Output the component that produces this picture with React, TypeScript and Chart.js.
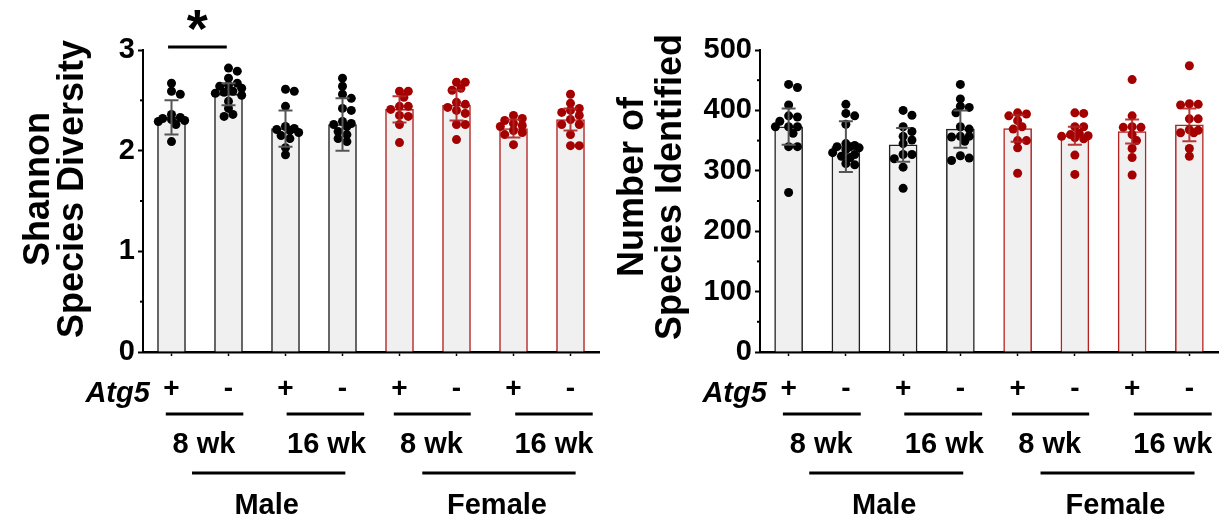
import React, { useEffect, useRef } from 'react';
import { Chart, registerables } from 'chart.js';

Chart.register(...registerables);

const FONT = 'Arial, "Liberation Sans", Helvetica, sans-serif';

// ---------- categories / labels ----------
const atg5Signs = ['+', '-', '+', '-', '+', '-', '+', '-'];
const ageLabels = ['8 wk', '16 wk', '8 wk', '16 wk'];
const sexLabels = ['Male', 'Female'];
const geneLabel = 'Atg5';

// ---------- Shannon species diversity ----------
const shannonTicks = [0, 1, 2, 3];
const shannonMinorTicks = [0.5, 1.5, 2.5];
const shannonMean = [2.33, 2.56, 2.22, 2.26, 2.41, 2.45, 2.22, 2.31];
const shannonSD = [0.17, 0.11, 0.18, 0.26, 0.13, 0.15, 0.09, 0.11];
const shannonM8Pos = [2.67, 2.59, 2.56, 2.36, 2.33, 2.32, 2.31, 2.3, 2.29, 2.26, 2.09];
const shannonM8Neg = [2.82, 2.79, 2.72, 2.67, 2.65, 2.64, 2.62, 2.59, 2.58, 2.57, 2.55, 2.49, 2.42, 2.36, 2.34];
const shannonM16Pos = [2.61, 2.59, 2.44, 2.24, 2.22, 2.21, 2.2, 2.18, 2.15, 2.12, 2.03, 1.96];
const shannonM16Neg = [2.72, 2.64, 2.56, 2.52, 2.42, 2.4, 2.29, 2.27, 2.26, 2.24, 2.19, 2.16, 2.12, 2.09];
const shannonF8Pos = [2.59, 2.59, 2.53, 2.44, 2.44, 2.41, 2.35, 2.34, 2.26, 2.08];
const shannonF8Neg = [2.68, 2.68, 2.62, 2.6, 2.48, 2.46, 2.43, 2.4, 2.37, 2.26, 2.26, 2.11];
const shannonF16Pos = [2.35, 2.32, 2.3, 2.27, 2.25, 2.24, 2.2, 2.18, 2.16, 2.06];
const shannonF16Neg = [2.56, 2.47, 2.42, 2.4, 2.38, 2.35, 2.31, 2.26, 2.26, 2.16, 2.05, 2.05];

// ---------- Number of species identified ----------
const speciesTicks = [0, 100, 200, 300, 400, 500];
const speciesMinorTicks = [50, 150, 250, 350, 450];
const speciesMean = [373, 340, 343, 369, 370, 358, 365, 376];
const speciesSD = [30, 42, 28, 31, 22, 15, 20, 27];
const speciesM8Pos = [443, 438, 409, 391, 389, 382, 373, 373, 373, 362, 340, 340, 264];
const speciesM8Neg = [410, 395, 391, 377, 345, 342, 340, 340, 338, 335, 330, 327, 324, 322, 312, 310];
const speciesM16Pos = [400, 392, 373, 365, 357, 351, 345, 327, 327, 320, 306, 271];
const speciesM16Neg = [443, 419, 407, 405, 396, 373, 369, 357, 357, 356, 349, 325, 321, 317];
const speciesF8Pos = [396, 394, 391, 383, 373, 369, 350, 350, 338, 296];
const speciesF8Neg = [396, 395, 373, 373, 362, 360, 358, 357, 355, 353, 326, 294];
const speciesF16Pos = [451, 391, 373, 372, 372, 360, 350, 337, 322, 293];
const speciesF16Neg = [474, 411, 410, 409, 386, 386, 368, 367, 363, 363, 337, 324];

// ---------- styles ----------
const BAR_FILL = '#f0f0f0';
const MALE_COLOR = '#000000';
const FEMALE_COLOR = '#a50000';
const MALE_BORDER = '#222222';
const FEMALE_BORDER = '#b52222';
const MALE_ERR = '#555555';
const FEMALE_ERR = 'rgba(175,35,35,0.9)';

// annotation layout (in category-index units / px below the x axis)
const DECOR = {
  geneIdx: -0.38,
  geneBase: 49.5,
  pairLines: [[-0.1, 1.26], [2.02, 3.38], [3.9, 5.25], [6.03, 7.39]],
  pairDy: 62,
  ageIdx: [0.57, 2.72, 4.56, 6.71],
  ageBase: 101,
  sexLines: [[0.36, 3.05], [4.4, 7.09]],
  sexDy: 121,
  sexIdx: [1.67, 5.71],
  sexBase: 161.5,
};

// simple deterministic beeswarm placement (horizontal spread only)
function swarm(groups: number[][], pxPerUnit: number, pxPerIdx: number) {
  const minDist = 7;
  const step = 4.4;
  const male: { x: number; y: number }[] = [];
  const female: { x: number; y: number }[] = [];
  groups.forEach((vals, gi) => {
    const placed: { dx: number; py: number }[] = [];
    const order = vals.map((_, i) => i).sort((a, b) => vals[b] - vals[a]);
    order.forEach((i) => {
      const py = vals[i] * pxPerUnit;
      let chosen = 0;
      let best = -1;
      for (let k = 0; k < 7; k++) {
        const m = k === 0 ? 0 : k % 2 === 1 ? (k + 1) / 2 : -k / 2;
        const dx = m * step;
        const d = placed.length
          ? Math.min(...placed.map((p) => Math.hypot(p.dx - dx, p.py - py)))
          : Infinity;
        if (d >= minDist) {
          chosen = dx;
          break;
        }
        if (d > best) {
          best = d;
          chosen = dx;
        }
      }
      placed.push({ dx: chosen, py });
      (gi < 4 ? male : female).push({ x: gi + chosen / pxPerIdx, y: vals[i] });
    });
  });
  return { male, female };
}

type Spec = {
  mean: number[];
  sd: number[];
  groups: number[][];
  max: number;
  ticks: number[];
  minor: number[];
  yWidth: number;
  padRight: number;
  titleLines: string[];
  titleBaseX: number[];
  titleCenterY: number;
  titleSize: number;
  sig: boolean;
};

function makeConfig(spec: Spec): any {
  const pxPerUnit = 302 / spec.max;
  const dots = swarm(spec.groups, pxPerUnit, 57.1);

  const decor = {
    id: 'decor',
    afterDatasetsDraw(chart: any) {
      const { ctx } = chart;
      const x = chart.scales.x;
      const y = chart.scales.y;
      ctx.save();
      ctx.lineWidth = 2;
      spec.mean.forEach((m, i) => {
        const px = x.getPixelForValue(i);
        const top = y.getPixelForValue(m + spec.sd[i]);
        const bot = y.getPixelForValue(m - spec.sd[i]);
        ctx.strokeStyle = i < 4 ? MALE_ERR : FEMALE_ERR;
        ctx.beginPath();
        ctx.moveTo(px, top);
        ctx.lineTo(px, bot);
        ctx.moveTo(px - 7, top);
        ctx.lineTo(px + 7, top);
        ctx.moveTo(px - 7, bot);
        ctx.lineTo(px + 7, bot);
        ctx.stroke();
      });
      ctx.restore();
    },
    afterDraw(chart: any) {
      const { ctx, chartArea } = chart;
      const x = chart.scales.x;
      const y = chart.scales.y;
      const bottom = chartArea.bottom;
      ctx.save();
      ctx.fillStyle = '#000';
      ctx.strokeStyle = '#000';

      // minor ticks
      ctx.lineWidth = 2;
      spec.minor.forEach((v) => {
        const py = y.getPixelForValue(v);
        ctx.beginPath();
        ctx.moveTo(chartArea.left - 3, py);
        ctx.lineTo(chartArea.left, py);
        ctx.stroke();
      });

      // y title
      ctx.font = `bold ${spec.titleSize}px ${FONT}`;
      ctx.textAlign = 'center';
      ctx.textBaseline = 'alphabetic';
      spec.titleLines.forEach((t, k) => {
        ctx.save();
        ctx.translate(spec.titleBaseX[k], spec.titleCenterY);
        ctx.rotate(-Math.PI / 2);
        ctx.fillText(t, 0, 0);
        ctx.restore();
      });

      // gene label
      ctx.font = `italic bold 29px ${FONT}`;
      ctx.textAlign = 'right';
      ctx.fillText(geneLabel, x.getPixelForValue(DECOR.geneIdx), bottom + DECOR.geneBase);

      // pair lines + age labels
      ctx.lineWidth = 3;
      DECOR.pairLines.forEach(([a, b]) => {
        ctx.beginPath();
        ctx.moveTo(x.getPixelForValue(a), bottom + DECOR.pairDy);
        ctx.lineTo(x.getPixelForValue(b), bottom + DECOR.pairDy);
        ctx.stroke();
      });
      ctx.font = `bold 29px ${FONT}`;
      ctx.textAlign = 'center';
      ageLabels.forEach((t, k) => {
        ctx.fillText(t, x.getPixelForValue(DECOR.ageIdx[k]), bottom + DECOR.ageBase);
      });

      // sex lines + labels
      DECOR.sexLines.forEach(([a, b]) => {
        ctx.beginPath();
        ctx.moveTo(x.getPixelForValue(a), bottom + DECOR.sexDy);
        ctx.lineTo(x.getPixelForValue(b), bottom + DECOR.sexDy);
        ctx.stroke();
      });
      sexLabels.forEach((t, k) => {
        ctx.fillText(t, x.getPixelForValue(DECOR.sexIdx[k]), bottom + DECOR.sexBase);
      });

      // significance
      if (spec.sig) {
        const ly = y.getPixelForValue(3.03);
        ctx.lineWidth = 3;
        ctx.beginPath();
        ctx.moveTo(x.getPixelForValue(-0.06), ly);
        ctx.lineTo(x.getPixelForValue(0.97), ly);
        ctx.stroke();
        ctx.font = `bold 54px ${FONT}`;
        ctx.textAlign = 'center';
        ctx.fillText('*', x.getPixelForValue(0.45), 47);
      }
      ctx.restore();
    },
  };

  const tickFont = { family: FONT, size: 29, weight: 'bold' as const };

  return {
    type: 'bar',
    data: {
      datasets: [
        {
          type: 'scatter',
          data: dots.male,
          pointRadius: 4.5,
          pointBorderWidth: 0,
          pointBackgroundColor: MALE_COLOR,
          backgroundColor: MALE_COLOR,
          borderWidth: 0,
          order: 1,
        },
        {
          type: 'scatter',
          data: dots.female,
          pointRadius: 4.5,
          pointBorderWidth: 0,
          pointBackgroundColor: FEMALE_COLOR,
          backgroundColor: FEMALE_COLOR,
          borderWidth: 0,
          order: 1,
        },
        {
          type: 'bar',
          data: spec.mean.map((m, i) => ({ x: i, y: m })),
          backgroundColor: BAR_FILL,
          borderColor: spec.mean.map((_, i) => (i < 4 ? MALE_BORDER : FEMALE_BORDER)),
          borderWidth: 1.5,
          barThickness: 28,
          order: 3,
        },
      ],
    },
    options: {
      responsive: false,
      animation: false,
      events: [],
      layout: { padding: { top: 50, right: spec.padRight, left: 0, bottom: 0 } },
      plugins: { legend: { display: false }, tooltip: { enabled: false } },
      scales: {
        x: {
          type: 'linear',
          min: -0.5,
          max: 7.5,
          offset: false,
          z: 1,
          afterBuildTicks: (s: any) => {
            s.ticks = atg5Signs.map((_, i) => ({ value: i }));
          },
          afterFit: (s: any) => {
            s.height = 169;
          },
          ticks: {
            callback: (v: any) => atg5Signs[v],
            font: { family: FONT, size: 28, weight: 'bold' },
            color: '#000',
            padding: 16,
            autoSkip: false,
            maxRotation: 0,
            minRotation: 0,
          },
          grid: {
            offset: false,
            drawOnChartArea: false,
            drawTicks: true,
            tickLength: 4,
            tickWidth: 1.5,
            tickColor: '#000',
          },
          border: { color: '#000', width: 2.5 },
        },
        y: {
          min: 0,
          max: spec.max,
          z: 1,
          afterBuildTicks: (s: any) => {
            s.ticks = spec.ticks.map((v) => ({ value: v }));
          },
          afterFit: (s: any) => {
            s.width = spec.yWidth;
          },
          ticks: {
            callback: (v: any) => String(v),
            font: tickFont,
            color: '#000',
            padding: 3,
          },
          grid: {
            drawOnChartArea: false,
            drawTicks: true,
            tickLength: 5,
            tickWidth: 2,
            tickColor: '#000',
          },
          border: { color: '#000', width: 2 },
        },
      },
    },
    plugins: [decor],
  };
}

const leftSpec: Spec = {
  mean: shannonMean,
  sd: shannonSD,
  groups: [shannonM8Pos, shannonM8Neg, shannonM16Pos, shannonM16Neg, shannonF8Pos, shannonF8Neg, shannonF16Pos, shannonF16Neg],
  max: 3,
  ticks: shannonTicks,
  minor: shannonMinorTicks,
  yWidth: 143,
  padRight: 11,
  titleLines: ['Shannon', 'Species Diversity'],
  titleBaseX: [49, 83],
  titleCenterY: 189,
  titleSize: 36,
  sig: true,
};

const rightSpec: Spec = {
  mean: speciesMean,
  sd: speciesSD,
  groups: [speciesM8Pos, speciesM8Neg, speciesM16Pos, speciesM16Neg, speciesF8Pos, speciesF8Neg, speciesF16Pos, speciesF16Neg],
  max: 500,
  ticks: speciesTicks,
  minor: speciesMinorTicks,
  yWidth: 150,
  padRight: 11,
  titleLines: ['Number of', 'Species Identified'],
  titleBaseX: [33, 71],
  titleCenterY: 187,
  titleSize: 36,
  sig: false,
};

export default function App() {
  const leftRef = useRef<HTMLCanvasElement | null>(null);
  const rightRef = useRef<HTMLCanvasElement | null>(null);

  useEffect(() => {
    const c1 = new Chart(leftRef.current as HTMLCanvasElement, makeConfig(leftSpec));
    const c2 = new Chart(rightRef.current as HTMLCanvasElement, makeConfig(rightSpec));
    return () => {
      c1.destroy();
      c2.destroy();
    };
  }, []);

  return (
    <div style={{ position: 'absolute', left: 0, top: 0, width: 1229, height: 521, background: '#fff' }}>
      <canvas ref={leftRef} width={610} height={521} style={{ position: 'absolute', left: 0, top: 0, width: 610, height: 521 }} />
      <canvas ref={rightRef} width={619} height={521} style={{ position: 'absolute', left: 610, top: 0, width: 619, height: 521 }} />
    </div>
  );
}
